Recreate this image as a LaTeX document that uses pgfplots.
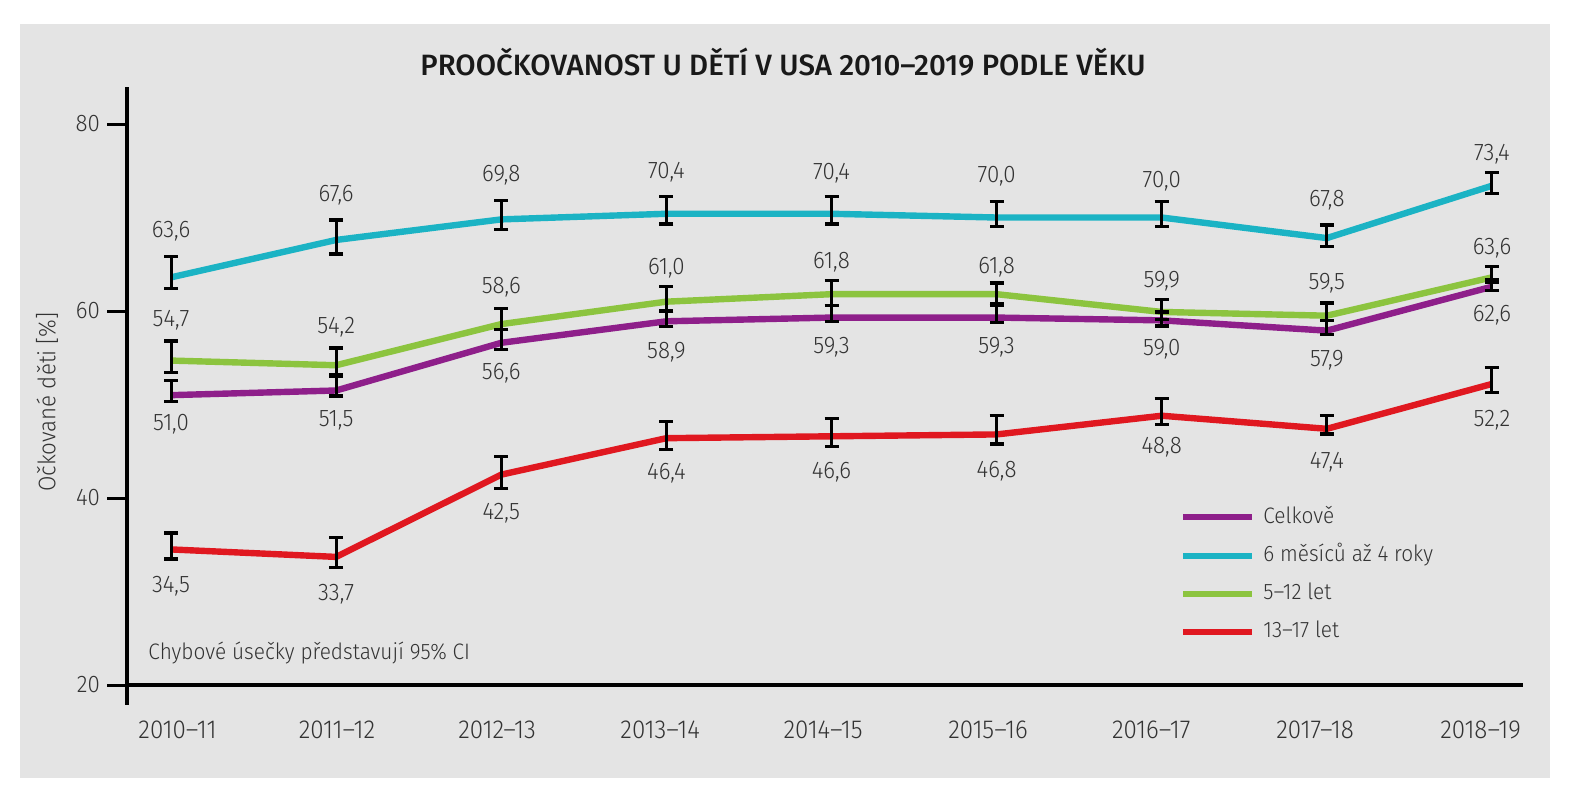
\documentclass[border=0pt]{standalone}
\usepackage{fontspec}
\setmainfont{Fira Sans Light}[BoldFont={Fira Sans Medium}]
\newfontfamily\narrow{Fira Sans Light}[FakeStretch=0.93]
\usepackage{pgfplots}
\usepackage{pgfplotstable}
\pgfplotsset{compat=1.18}

\definecolor{cpurple}{HTML}{8E1F8A}
\definecolor{cteal}{HTML}{1BB3C4}
\definecolor{cgreen}{HTML}{8CC43F}
\definecolor{cred}{HTML}{E01820}
\definecolor{panel}{HTML}{E4E4E4}
\definecolor{txt}{HTML}{333333}

% x value  error+  error-  label-y  label
\pgfplotstableread{
x y ep em ly lab
0 51.0 1.55 0.66 47.9 51,0
1 51.5 1.50 0.60 48.3 51,5
2 56.6 1.40 0.70 53.4 56,6
3 58.9 1.10 0.55 55.6 58,9
4 59.3 1.30 0.45 56.1 59,3
5 59.3 1.30 0.50 56.1 59,3
6 59.0 0.90 0.60 55.9 59,0
7 57.9 1.10 0.40 54.7 57,9
8 62.6 0.80 0.40 59.5 62,6
}\tpurple
\pgfplotstableread{
x y ep em ly lab
0 63.6 2.25 1.18 68.5 63,6
1 67.6 2.13 1.50 72.4 67,6
2 69.8 2.00 1.10 74.5 69,8
3 70.4 1.87 1.10 74.9 70,4
4 70.4 1.87 1.10 74.7 70,4
5 70.0 1.70 1.00 74.4 70,0
6 70.0 1.70 0.94 73.9 70,0
7 67.8 1.40 0.90 71.8 67,8
8 73.4 1.43 0.80 76.8 73,4
}\tteal
\pgfplotstableread{
x y ep em ly lab
0 54.7 2.10 1.30 59.0 54,7
1 54.2 1.84 1.00 58.25 54,2
2 58.6 1.70 0.60 62.5 58,6
3 61.0 1.60 1.00 64.6 61,0
4 61.8 1.44 1.23 65.2 61,8
5 61.8 1.20 1.05 64.7 61,8
6 59.9 1.30 0.80 63.2 59,9
7 59.5 1.36 0.53 63.0 59,5
8 63.6 1.14 0.50 66.7 63,6
}\tgreen
\pgfplotstableread{
x y ep em ly lab
0 34.5 1.76 1.02 30.6 34,5
1 33.7 2.10 1.10 29.7 33,7
2 42.5 1.96 1.46 38.4 42,5
3 46.4 1.76 1.23 42.6 46,4
4 46.6 1.90 1.10 42.75 46,6
5 46.8 2.00 1.02 42.9 46,8
6 48.8 1.86 0.90 45.4 48,8
7 47.4 1.40 0.55 43.8 47,4
8 52.2 1.78 0.90 48.3 52,2
}\tred

\newcommand{\fs}[1]{\narrow\fontsize{#1}{#1}\selectfont}

\begin{document}
\begin{tikzpicture}[x=1pt,y=1pt]
\path[use as bounding box] (0,0) rectangle (788,400);
\fill[white] (0,0) rectangle (788,400);
\fill[panel] (10,11) rectangle (775,388);
\node[font=\bfseries\fontsize{14.7}{14.7}\selectfont, text=black!90] at (391.5,369) {PROOČKOVANOST U DĚTÍ V USA 2010–2019 PODLE VĚKU};
\node[rotate=90, font=\fs{12}, text=txt] at (23.5,199) {Očkované děti [\%]};
\begin{axis}[
  at={(63.5pt,57.5pt)}, anchor=south west,
  scale only axis, width=698pt, height=299pt,
  xmin=-0.2667, xmax=8.188, ymin=20, ymax=83.96,
  axis x line*=bottom, axis y line*=left,
  axis line style={-, line width=2pt, black},
  xtick={0.039,1.005,1.975,2.962,3.949,4.948,5.936,6.929,7.931},
  xticklabels={2010–11,2011–12,2012–13,2013–14,2014–15,2015–16,2016–17,2017–18,2018–19},
  x tick style={draw=none},
  ytick={20,40,60,80},
  tick align=outside, major tick length=10pt,
  y tick style={line width=1.5pt, black},
  /pgf/number format/assume math mode=true,
  yticklabel style={font=\fs{12}, text=txt},
  xticklabel style={font=\fs{13}, text=txt, yshift=-4.5pt},
  clip=false,
  legend cell align=left,
  legend style={at={(rel axis cs:0.7543,0.3010)}, anchor=north west,
    draw=none, fill=none, font=\fs{11.2}, text=txt, inner sep=0pt,
    row sep=7.05pt, column sep=4pt,
    nodes={inner sep=0pt, text height=9pt, text depth=3pt}},
  legend image code/.code={\draw[#1, line width=3pt] (0pt,0pt) -- (34.5pt,0pt);},
  nodes near coords style={font=\fs{12}, text=txt, anchor=center, inner sep=0pt},
]
\addlegendimage{cpurple}\addlegendentry{Celkově}
\addlegendimage{cteal}\addlegendentry{6 měsíců až 4 roky}
\addlegendimage{cgreen}\addlegendentry{5–12 let}
\addlegendimage{cred}\addlegendentry{13–17 let}

\draw[line width=2pt, black] (rel axis cs:0,0) -- ([yshift=-10pt]rel axis cs:0,0);

\addplot[forget plot, cteal, line width=3.2pt, line join=round] table[x=x,y=y]{\tteal};
\addplot[forget plot, cgreen, line width=3.2pt, line join=round] table[x=x,y=y]{\tgreen};
\addplot[forget plot, cred, line width=3.2pt, line join=round] table[x=x,y=y]{\tred};
\addplot[forget plot, cpurple, line width=3.2pt, line join=round] table[x=x,y=y]{\tpurple};

\pgfplotsset{errstyle/.style={forget plot, draw=none, mark=none,
  error bars/.cd, y dir=both, y explicit, error mark=-,
  error bar style={draw=black, line width=1.5pt, solid},
  error mark options={rotate=90, draw=black, line width=1.6pt, mark size=3.5pt}}}
\addplot[errstyle] table[x=x,y=y,y error plus=ep,y error minus=em]{\tteal};
\addplot[errstyle] table[x=x,y=y,y error plus=ep,y error minus=em]{\tgreen};
\addplot[errstyle] table[x=x,y=y,y error plus=ep,y error minus=em]{\tred};
\addplot[errstyle] table[x=x,y=y,y error plus=ep,y error minus=em]{\tpurple};

\pgfplotsset{labstyle/.style={forget plot, only marks, mark=none,
  nodes near coords, point meta=explicit symbolic}}
\addplot[labstyle] table[x=x,y=ly,meta=lab]{\tteal};
\addplot[labstyle] table[x=x,y=ly,meta=lab]{\tgreen};
\addplot[labstyle] table[x=x,y=ly,meta=lab]{\tred};
\addplot[labstyle] table[x=x,y=ly,meta=lab]{\tpurple};

\node[anchor=west, inner sep=0pt, font=\fs{11.2}, text=txt] at (axis cs:-0.139,23.4) {Chybové úsečky představují 95\% CI};
\end{axis}
\end{tikzpicture}
\end{document}
